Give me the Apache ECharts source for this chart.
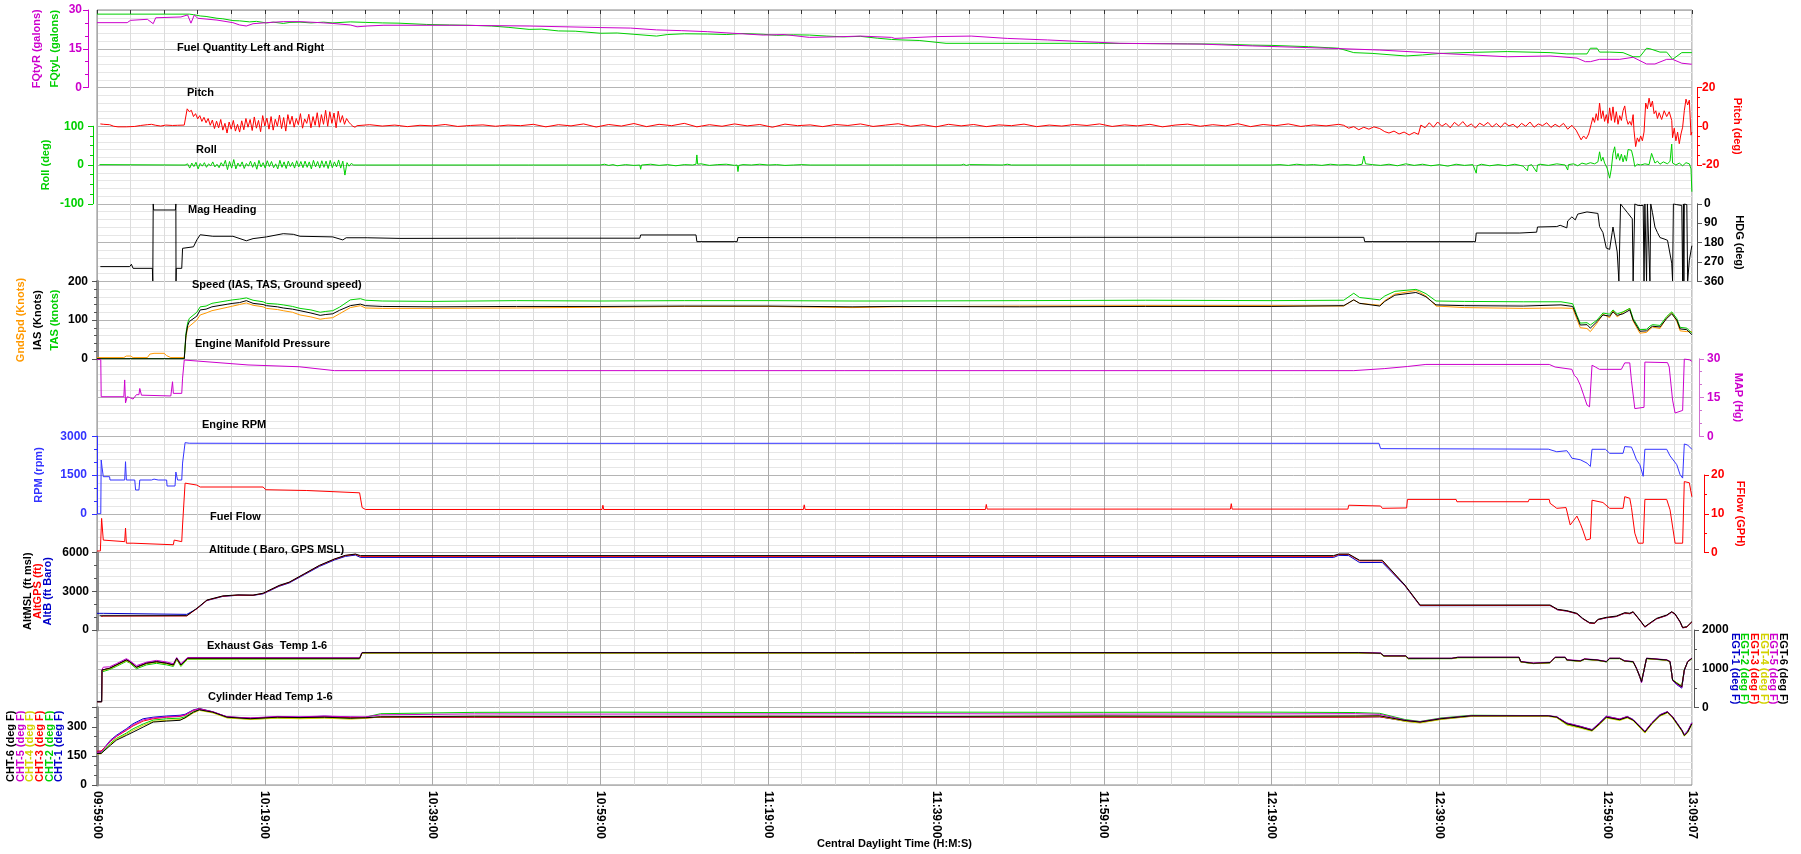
<!DOCTYPE html>
<html>
<head>
<meta charset="utf-8">
<script src="https://cdn.jsdelivr.net/npm/echarts@6/dist/echarts.min.js"></script>
<style>
html, body { margin: 0; padding: 0; background: #fff; }
#chart { width: 1801px; height: 854px; }
</style>
</head>
<body>
<div id="chart"></div>
<script>
// time is minutes after 09:59:00, last sample 13:09:07
const START_SEC = 9 * 3600 + 59 * 60;
const T_END = 11407 / 60;

// ---- fuel quantity (gal) ----
const fuelLeft = [[0,28.4],[11,28.4],[11.5,28.2],[12.3,27.7],[13,27.5],[14.3,26.8],[15,26.6],[16.2,25.9],[17,25.8],[18.2,25.4],[19,25.6],[20.2,25.0],[21,25.3],[22.2,24.8],[23,25.2],[24.2,25.3],[25.5,25.0],[27,25.3],[28.1,25.0],[30.2,25.4],[32,25.2],[34,25.0],[36,24.9],[39.3,24.4],[42,24.2],[44.2,24.1],[47,23.8],[49,23.3],[51.5,22.5],[53,22.6],[55,21.9],[57,21.8],[60,21.0],[62,21.1],[64,20.6],[66.7,19.9],[68,20.5],[70,20.8],[72.8,20.7],[75,20.5],[77,20.9],[79.4,20.6],[81,20.2],[83,20.4],[84.9,20.3],[87,19.9],[89,19.6],[91,19.8],[93,19.1],[94.7,18.6],[96,18.4],[98,18.2],[101.2,17.1],[110,17.1],[119.4,17.1],[125,17.0],[130,16.9],[134,16.8],[137.7,16.4],[140,16.3],[144.4,15.8],[148,15.2],[149.8,13.5],[152,13.2],[156,12.2],[158,12.6],[160.2,13.2],[164,13.6],[168.1,13.9],[173.2,13.5],[175.2,13.0],[177.6,13.0],[178,15.2],[178.8,15.2],[179.1,13.7],[180.3,13.7],[181.9,13.5],[183.1,11.9],[183.9,11.9],[184.7,15.2],[185.1,15.0],[186.3,13.7],[187.1,13.7],[187.8,10.9],[188.9,13.5],[190.1,13.5]];
const fuelRight = [[0,25.1],[3.6,25.1],[4,26.0],[6,26.4],[6.7,24.7],[7,27.0],[10,27.3],[10.8,28.1],[11.2,24.9],[11.6,28.1],[12,26.8],[14.3,26.1],[16.2,25.1],[17,24.2],[17.8,23.8],[18.6,24.7],[20.2,25.1],[22.2,25.5],[24.2,25.5],[26.6,25.1],[28.1,24.8],[30.2,24.2],[31,23.5],[32.2,23.8],[34.2,24.1],[42.3,24.1],[51.5,23.8],[60,23.2],[63.6,23.0],[66.7,22.3],[69.7,22.0],[72.8,21.6],[75.8,21.0],[79.4,20.3],[81.9,20.5],[84.9,19.4],[88,19.6],[91,19.9],[94.7,19.4],[95.1,19.0],[100,19.7],[104.2,19.9],[108.5,19.0],[113.3,18.4],[121.9,17.1],[131.6,16.8],[137.7,16.1],[146.8,15.2],[152.9,14.5],[160.2,13.2],[168.1,11.9],[173.2,12.2],[176.4,11.4],[177.4,10.0],[178.0,10.0],[179.1,10.9],[181.5,10.9],[183.1,11.7],[184.7,9.1],[185.7,9.1],[187.1,10.9],[187.8,10.9],[188.9,9.4],[190.1,9.0]];

// ---- attitude (deg) ----
const pitch = [[0.4,1.2],[0.8,1.0],[1.5,0.8],[2.0,0.0],[2.5,-0.3],[3.5,-0.3],[4.5,-0.1],[5.2,0.4],[6.0,0.8],[6.5,1.0],[7.0,0.5],[7.6,0.1],[8.2,0.6],[9.0,0.4],[9.6,0.5],[10.4,0.6],
[10.75,9.0],[11.0,7.5],[11.25,8.2],[11.5,5.0],[11.75,6.5],[12.0,3.8],[12.25,5.5],[12.5,2.5],[12.75,4.6],[13.0,1.8],[13.25,4.0],[13.5,0.5],[13.75,3.2],[14.0,-1.2],[14.25,2.6],[14.5,-0.8],[14.75,3.5],[15.0,-2.0],[15.25,1.5],[15.5,-3.5],[15.75,2.2],[16.0,-1.5],[16.25,3.0],[16.5,-2.5],[16.75,1.0],[17.0,-3.0],[17.25,2.8],[17.5,-1.8],[17.75,4.0],[18.0,-0.5],[18.25,3.5],[18.5,-2.2],[18.75,4.8],[19.0,-1.0],[19.25,3.0],[19.5,-2.8],[19.75,5.5],[20.0,0.2],[20.25,4.2],[20.5,-1.5],[20.75,5.0],[21.0,-2.0],[21.25,3.6],[21.5,0.0],[21.75,5.8],[22.0,-1.2],[22.25,4.5],[22.5,-2.5],[22.75,6.0],[23.0,1.0],[23.25,5.2],[23.5,-0.5],[23.75,4.0],[24.0,0.8],[24.25,6.5],[24.5,-1.0],[24.75,3.8],[25.0,1.5],[25.25,6.2],[25.5,-0.8],[25.75,5.0],[26.0,0.5],[26.25,7.0],[26.5,-0.5],[26.75,6.0],[27.0,1.0],[27.25,8.2],[27.5,0.0],[27.75,7.5],[28.0,1.5],[28.25,6.8],[28.5,-0.8],[28.75,7.8],[29.0,2.0],[29.25,5.5],[29.5,1.0],[29.75,4.0],[30.0,2.2],[30.25,1.0],[30.5,0.0],[30.75,-0.5],
[31.0,0.3],[32.5,0.8],[34,0.1],[35.5,0.6],[37,-0.2],[38.5,0.5],[40,0.2],[41.5,0.9],[43,-0.1],[44.5,0.4],[46,0.7],[47.5,0.0],[49,0.6],[50.5,0.3],[52,1.0],[53.5,-0.3],[55,0.8],[56.5,0.2],[58,1.2],[59.5,-0.4],[61,0.9],[62.5,0.1],[64,1.4],[65.5,-0.2],[67,1.0],[68.5,0.3],[70,1.5],[71.5,-0.3],[73,0.8],[74.5,0.0],[76,1.2],[77.5,0.2],[79,0.9],[80.5,-0.5],[82,1.1],[83.5,0.3],[85,0.7],[86.5,-0.2],[88,0.9],[89.5,0.4],[91,1.2],[92.5,-0.1],[94,0.6],[95.5,1.3],[97,0.0],[98.5,0.8],[100,-0.3],[101.5,1.0],[103,0.2],[104.5,0.9],[106,-0.2],[107.5,0.7],[109,0.3],[110.5,1.1],[112,-0.2],[113.5,0.6],[115,0.1],[116.5,0.9],[118,0.4],[119.5,1.2],[121,-0.1],[122.5,0.7],[124,0.2],[125.5,1.0],[127,-0.3],[128.5,0.6],[130,1.1],[131.5,0.0],[133,0.8],[134.5,0.2],[136,1.3],[137.5,-0.2],[139,0.9],[140.5,0.3],[142,1.2],[143.5,-0.1],[145,0.7],[146.5,0.2],[148,1.0],
[148.6,0.5],[149.2,-1.0],[149.8,-0.2],[150.4,-1.8],[151,-0.5],[151.6,-1.5],[152.2,-0.3],[152.9,-1.2],[153.5,-2.8],[154,-3.5],[154.6,-2.5],[155.2,-4.0],[155.8,-3.0],[156.4,-4.5],[157,-3.2],[157.5,-4.2],[157.8,0.6],[158.3,-0.8],[158.8,1.8],[159.3,-0.5],[159.8,2.2],[160.3,0.0],[160.8,1.5],[161.3,-0.8],[161.8,2.0],[162.3,0.2],[162.8,2.4],[163.3,-0.2],[163.8,1.2],[164.3,-0.9],[164.8,1.6],[165.3,0.3],[165.8,2.0],[166.3,-0.4],[166.8,1.4],[167.3,-0.6],[167.8,1.8],[168.3,0.2],[168.8,1.0],[169.3,-0.8],[169.8,1.5],[170.3,0.0],[170.8,2.2],[171.3,-0.5],[171.8,1.2],[172.3,0.3],[172.8,1.8],[173.3,-0.6],[173.8,1.0],[174.3,-0.3],[174.8,1.5],[175.3,-1.5],[175.8,0.5],[176.3,-2.0],[176.6,-4.5],[176.9,-7.0],[177.2,-5.0],[177.5,-6.5],[177.8,-4.0],[178.1,1.0],[178.3,4.5],[178.5,2.0],[178.7,6.5],[178.9,3.0],[179.1,12.0],[179.3,4.0],[179.5,8.0],[179.7,2.5],[179.9,6.0],[180.1,1.5],[180.3,9.5],[180.5,3.0],[180.7,10.0],[180.9,2.0],[181.1,7.5],[181.3,1.0],[181.5,5.5],[181.7,3.0],[181.9,8.0],[182.1,10.5],[182.3,4.0],[182.5,1.0],[182.7,2.5],[182.9,0.5],[183.1,6.0],[183.2,-2.0],[183.4,-10.5],[183.6,-6.0],[183.8,-8.0],[184.0,-5.0],[184.2,-7.5],[184.4,-3.0],[184.6,12.0],[184.8,9.0],[185.0,14.5],[185.2,10.0],[185.4,13.0],[185.6,6.5],[185.8,8.0],[186.0,4.0],[186.2,7.0],[186.5,3.5],[186.8,8.0],[187.1,5.0],[187.4,7.5],[187.7,3.0],[187.8,-5.9],[188.0,-1.0],[188.2,-7.5],[188.4,-3.0],[188.6,-9.0],[188.8,-4.0],[189.0,-0.5],[189.2,8.0],[189.4,14.0],[189.6,11.0],[189.8,13.5],[190.0,-4.6],[190.1,-3.0]];
const roll = [[0.3,1],[0.4,-2],[0.5,0],[10.5,0],
[10.8,3],[11.05,-8],[11.3,5],[11.55,-4],[11.8,7],[12.05,-10],[12.3,4],[12.55,-3],[12.8,6],[13.05,-6],[13.3,3],[13.55,-2],[13.8,8],[14.05,-5],[14.3,2],[14.55,-7],[14.8,6],[15.05,-3],[15.3,12],[15.55,-12],[15.8,9],[16.05,-8],[16.3,14],[16.55,-10],[16.8,5],[17.05,-4],[17.3,8],[17.55,-9],[17.8,4],[18.05,-3],[18.3,10],[18.55,-6],[18.8,7],[19.05,-11],[19.3,12],[19.55,-5],[19.8,6],[20.05,-8],[20.3,11],[20.55,-4],[20.8,9],[21.05,-7],[21.3,3],[21.55,-10],[21.8,12],[22.05,-6],[22.3,8],[22.55,-9],[22.8,10],[23.05,-4],[23.3,7],[23.55,-8],[23.8,11],[24.05,-5],[24.3,9],[24.55,-7],[24.8,10],[25.05,-6],[25.3,8],[25.55,-10],[25.8,12],[26.05,-5],[26.3,9],[26.55,-8],[26.8,11],[27.05,-6],[27.3,10],[27.55,-9],[27.8,12],[28.05,-7],[28.3,8],[28.55,-5],[28.8,13],[29.05,-8],[29.3,10],[29.55,-26],[29.8,6],[30.05,-3],[30.3,4],[30.6,0],
[51.4,0],[51.5,3],[51.6,0],[60,0],[60.5,2],[61,-1],[61.5,1],[62,-2],[63,1],[64,-1],[64.7,0],[64.8,-11],[64.9,0],[66,2],[67,-1],[68,1],[69,-2],[70,1],[71,0],[71.4,2],[71.5,26],[71.6,2],[72,3],[73,-1],[74,1],[75,2],[76,-1],[76.3,0],[76.4,-17],[76.5,-1],[77,1],[78,0],[79,2],[80,0],[81,1],[82,-1],[83,0],[84,1],[85,0],[103,0],[103.3,2],[103.6,-1],[104,1],[108,0],[108.5,2],[109,0],[125,0],[125.2,5],[125.4,0],[140,0],[141,1],[142,-1],[143,2],[144,0],[145,1],[146,-1],[147,2],[148,0],[149,1],[150,-1],[150.8,2],[151,23],[151.2,3],[152,1],[153,-1],[154,2],[155,-2],[156,3],[157,-1],[158,2],[159,-2],[160,1],[161,-3],[162,2],[163,-1],[164,1],[164.4,-21],[164.5,-2],[165,2],[166,-2],[167,1],[168,-2],[169,2],[170,-3],[170.5,-15],[170.6,-2],[171,1],[171.6,-18],[171.7,0],[172,2],[173,-1],[174,3],[175,0],[175.3,-13],[175.4,1],[176,3],[176.5,-2],[177,5],[177.5,2],[178,6],[178.5,3],[178.9,8],[179.1,34],[179.3,10],[179.5,20],[179.7,5],[180,-8],[180.3,-34],[180.5,-10],[180.7,30],[180.9,47],[181.1,15],[181.3,30],[181.5,12],[181.7,28],[181.9,8],[182.1,25],[182.3,10],[182.5,40],[182.7,43],[182.9,38],[183.1,20],[183.3,-4],[183.6,2],[184,0],[184.5,3],[185,1],[185.3,30],[185.5,25],[185.7,5],[186,10],[186.3,2],[186.7,8],[187.2,3],[187.5,10],[187.7,54],[187.8,5],[188.2,0],[188.6,5],[189,-2],[189.4,6],[189.8,3],[190.0,-10],[190.1,-69]];

// ---- magnetic heading (deg) ----
const heading = [[0.4,292],[3.9,292],[4.1,281],[4.3,300],[6.6,300],[6.65,359],[6.7,1],[6.75,29],[9.35,29],[9.4,1],[9.42,359],[9.45,300],[10.1,300],[10.2,207],[11.5,200],[11.9,168],[12.3,144],[13.8,151],[16.2,151],[17.8,172],[18.6,162],[20.2,154],[22.2,139],[23.4,142],[24.2,151],[28.1,154],[29.3,168],[29.7,158],[32.2,158],[36.1,161],[50,160],[64.7,160],[64.8,145],[71.4,145],[71.5,176],[76.3,176],[76.4,157],[100,158],[118,156],[151,156],[151.1,176],[164.3,176],[164.4,136],[169.6,136],[169.7,132],[171.6,132],[171.7,108],[174,106],[174.4,100],[175.2,112],[175.3,80],[175.8,61],[176.2,75],[176.5,48],[177.6,38],[178.9,45],[179.1,106],[179.5,134],[179.9,206],[180.3,212],[180.6,134],[180.7,108],[181.2,224],[181.4,359],[181.6,1],[181.9,16],[182.4,40],[183,70],[183.1,359],[183.3,1],[183.7,8],[184.3,8],[184.4,359],[184.5,1],[184.7,359],[184.8,1],[185.1,359],[185.2,1],[185.3,8],[185.4,40],[185.7,108],[186,134],[186.3,157],[186.9,165],[187.2,170],[187.7,276],[187.8,359],[187.9,1],[188.3,4],[188.9,8],[189,359],[189.1,1],[189.15,359],[189.2,1],[189.5,4],[189.6,359],[189.8,262],[190.1,195]];

// ---- speeds (knots) ----
const ias = [[0,0],[10.4,0],[10.6,60],[10.8,85],[11.0,96],[11.9,110],[12.3,126],[13.0,128],[13.7,134],[15.6,141],[16.2,143],[17.0,145],[17.8,150],[18.6,143],[19.8,140],[20.2,137],[21.5,134],[22.2,131],[23.3,128],[24.2,124],[25.5,118],[26.6,112],[27.2,114],[28.1,116],[28.9,125],[30.2,137],[31.4,141],[32,137],[34,135],[40,134],[50,135],[60,135],[70,136],[80,136],[90,134],[95,135],[110,134],[125,135],[140,135],[148.6,137],[149.8,152],[150.5,143],[152.9,136],[153.5,148],[154.7,164],[157.2,171],[157.6,168],[158.4,160],[159.6,139],[163,137],[170,136],[174.5,139],[175.9,135],[176.4,108],[176.8,87],[177.6,88],[178,79],[178.8,96],[179.5,113],[180.3,110],[180.7,121],[181.2,112],[181.9,116],[182.7,126],[183.1,100],[183.9,71],[184.7,72],[185.1,79],[185.4,84],[186.3,82],[187.1,104],[187.7,116],[188.3,100],[188.7,77],[189.5,75],[190.1,62]];
const tas = [[0,0],[10.4,0],[10.6,65],[10.8,92],[11.0,104],[11.9,120],[12.3,134],[13.0,136],[13.7,143],[15.6,150],[16.2,152],[17.0,154],[17.8,157],[18.6,151],[19.8,147],[20.2,143],[21.5,141],[22.2,139],[23.3,135],[24.2,130],[25.5,126],[26.6,120],[27.2,122],[28.1,124],[28.9,133],[30.2,152],[31.4,155],[32,151],[34,149],[40,148],[50,150],[60,149],[70,150],[80,150],[90,149],[95,149],[110,150],[125,151],[140,150],[148.6,151],[149.8,169],[150.5,158],[152.9,152],[153.5,162],[154.7,174],[157.2,179],[157.6,176],[158.4,168],[159.6,149],[163,148],[170,147],[174.5,147],[175.9,142],[176.4,112],[176.8,92],[177.6,93],[178,87],[178.8,100],[179.5,118],[180.3,115],[180.7,126],[181.2,116],[181.9,121],[182.7,130],[183.1,104],[183.9,75],[184.7,76],[185.1,84],[185.4,88],[186.3,86],[187.1,109],[187.7,121],[188.3,104],[188.7,81],[189.5,79],[190.1,66]];
const groundSpeed = [[0,3],[3.2,3],[3.5,7],[4.0,7],[4.3,3],[6.0,3],[6.3,12],[6.8,14],[8.0,14],[8.3,8],[8.8,3],[10.4,3],[10.6,55],[10.8,80],[11.9,100],[12.3,113],[13.0,118],[13.7,124],[15.6,133],[16.2,136],[17.0,140],[17.8,144],[18.6,138],[19.8,134],[20.2,130],[21.5,127],[22.2,124],[23.3,120],[24.2,113],[25.5,108],[26.6,102],[27.2,104],[28.1,106],[28.9,116],[30.2,132],[31.4,137],[32,131],[34,130],[40,130],[50,131],[60,133],[70,135],[80,135],[90,132],[95,134],[110,136],[125,137],[140,137],[148.6,136],[149.8,152],[150.5,143],[152.9,138],[153.5,150],[154.7,167],[157.2,176],[157.6,172],[158.4,162],[159.6,136],[163,132],[170,130],[174.5,131],[175.9,130],[176.4,102],[176.8,80],[177.6,78],[178,70],[178.8,92],[179.5,115],[180.3,106],[180.7,124],[181.2,108],[181.9,120],[182.7,130],[183.1,97],[183.9,66],[184.7,68],[185.1,76],[185.4,82],[186.3,78],[187.1,106],[187.7,119],[188.3,97],[188.7,72],[189.5,70],[190.1,70]];

// ---- engine ----
const manifold = [[0,29.7],[0.45,29.7],[0.5,15.3],[3.2,15.3],[3.3,21.8],[3.4,12.9],[3.6,15.3],[3.9,15.0],[4.3,14.4],[4.7,16.1],[5.0,16.1],[5.1,18.5],[5.3,15.9],[8.8,15.6],[9.0,21.1],[9.1,16.6],[10.1,16.6],[10.2,22.5],[10.4,29.5],[12,29.1],[18,27.6],[24.1,26.9],[28.3,25.4],[149.8,25.4],[153.5,26.2],[156.2,27.0],[158.4,27.8],[173.1,27.8],[173.8,26.8],[175.8,25.9],[176.1,23.5],[176.4,22.6],[176.8,19.8],[177.2,16.0],[177.6,12.1],[177.9,11.4],[178.1,11.4],[178.2,27.5],[178.6,26.8],[179.1,25.9],[181.7,25.9],[182.1,28.4],[182.7,28.4],[182.9,21.5],[183.3,10.7],[184.4,11.2],[184.5,28.7],[187.2,28.5],[187.4,26.8],[187.8,14.0],[188.1,9.0],[189.0,10.0],[189.2,29.9],[189.8,29.6],[190.1,29.0]];
const rpm = [[0,0],[0.45,0],[0.5,2080],[0.6,1800],[0.75,1435],[1.5,1435],[1.55,1306],[3.3,1306],[3.4,2015],[3.5,1306],[4.5,1306],[4.6,920],[5.0,920],[5.1,1306],[6.5,1306],[6.8,1340],[7.3,1306],[8.3,1306],[8.35,1074],[9.3,1074],[9.4,1615],[9.6,1306],[10.1,1306],[10.2,1962],[10.4,2000],[10.5,2752],[11,2730],[20,2725],[40,2728],[60,2725],[80,2727],[100,2730],[120,2730],[140,2727],[152.8,2727],[153,2520],[173,2500],[173.2,2450],[174,2400],[175.2,2440],[175.5,2310],[175.8,2150],[176.8,2090],[177.6,1960],[178,1830],[178.2,2495],[179.8,2495],[180.3,2340],[181.9,2340],[182.1,2600],[182.9,2580],[183.1,2430],[183.5,2090],[183.9,1900],[184.3,1450],[184.5,2495],[187.1,2495],[187.5,2240],[188.3,1900],[188.7,1510],[189,1380],[189.2,2700],[189.6,2660],[190.1,2495]];
const fuelFlow = [[0,0.4],[0.4,0.4],[0.55,8.8],[0.75,3.2],[0.9,2.8],[3.3,2.8],[3.4,6.3],[3.5,2.4],[4.3,2.4],[4.4,2.0],[9.1,2.0],[9.2,3.2],[10.1,2.8],[10.2,7.1],[10.5,17.9],[10.7,17.4],[11.9,17.4],[12.3,16.9],[19.8,16.9],[20.1,16.2],[25,16.0],[31.3,15.4],[31.6,11.6],[32,11.1],[60.2,11.1],[60.3,12.2],[60.4,11.1],[84.2,11.1],[84.3,12.3],[84.4,11.1],[105.9,11.1],[106,12.4],[106.1,11.2],[135.1,11.2],[135.2,12.6],[135.3,11.2],[149.1,11.2],[149.2,12.2],[153,12.0],[153.2,11.4],[156.1,11.5],[156.2,13.7],[162,13.7],[162.1,13.1],[170.6,13.1],[170.7,13.7],[173.1,13.7],[173.2,12.7],[174,11.4],[175.1,11.6],[175.6,7.1],[176.4,9.4],[176.8,7.5],[177.1,5.8],[177.5,3.2],[178,3.5],[178.2,13.5],[179.5,12.9],[180.3,11.4],[181.9,11.4],[182.1,14.4],[182.7,14.0],[182.9,11.6],[183.3,5.0],[183.7,2.4],[184.3,2.4],[184.5,13.7],[187.1,13.7],[187.5,11.0],[188.1,2.4],[189,2.4],[189.2,18.3],[189.8,18.0],[190.1,14.4]];

// ---- altitude (ft) ----
const altBaro = [[0,1290],[0.8,1290],[1,1210],[10.7,1210],[11.9,1640],[13.1,2280],[15,2600],[16.8,2690],[18.6,2680],[19.8,2800],[21.7,3380],[22.9,3640],[24.7,4280],[26.5,4920],[28.3,5420],[29.6,5700],[30.8,5800],[31.4,5620],[147.4,5620],[148,5780],[149.2,5760],[150.5,5220],[153.2,5230],[155.9,3420],[157.7,1880],[173.2,1890],[174.1,1560],[175.2,1460],[176.4,1250],[177.1,860],[177.9,540],[178.5,500],[178.9,790],[179.9,940],[181.1,1040],[182.1,1300],[182.7,1260],[183.1,1380],[183.9,740],[184.5,220],[185.1,500],[185.9,860],[187.1,1120],[187.7,1380],[188.1,1210],[188.7,600],[189,160],[189.5,220],[190.1,600]];
const altGps = [[0.5,1050],[0.8,1080],[10.7,1090],[11.9,1650],[13.1,2300],[15,2620],[16.8,2700],[18.6,2690],[19.8,2830],[21.7,3420],[22.9,3680],[24.7,4330],[26.5,4980],[28.3,5480],[29.6,5760],[30.8,5860],[31.4,5700],[147.4,5700],[148,5850],[149.2,5850],[150.5,5350],[153.2,5350],[155.9,3450],[157.7,1900],[173.2,1900],[174.1,1570],[175.2,1470],[176.4,1260],[177.1,870],[177.9,540],[178.5,510],[178.9,800],[179.9,950],[181.1,1050],[182.1,1310],[182.7,1270],[183.1,1390],[183.9,745],[184.5,230],[185.1,510],[185.9,870],[187.1,1130],[187.7,1390],[188.1,1220],[188.7,615],[189,170],[189.5,230],[190.1,615]];
const altMsl = [[0.3,1100],[10.7,1110],[11.9,1680],[13.1,2320],[15,2640],[16.8,2720],[18.6,2700],[19.8,2850],[21.7,3450],[22.9,3700],[24.7,4350],[26.5,5000],[28.3,5500],[29.6,5780],[30.8,5880],[31.4,5760],[147.4,5760],[148,5880],[149.2,5880],[150.5,5400],[153.2,5400],[155.9,3480],[157.7,1935],[173.2,1935],[174.1,1600],[175.2,1500],[176.4,1290],[177.1,900],[177.9,570],[178.5,540],[178.9,826],[179.9,980],[181.1,1080],[182.1,1340],[182.7,1300],[183.1,1420],[183.9,775],[184.5,258],[185.1,540],[185.9,903],[187.1,1160],[187.7,1420],[188.1,1250],[188.7,645],[189,200],[189.5,260],[190.1,645]];

// ---- exhaust gas temp (deg F) ----
const egtTime = [0,0.55,0.6,0.75,1.5,2.3,3.5,3.9,4.7,5.9, 7.1,8.3,9.1,9.5,10.0,10.8,31.3,31.6,149,150.4, 153,153.4,156,156.3,161.5,162.2,169.5,169.7,171.2,173.2, 173.8,175,175.2,176.8,177.3,178.8,179.9,180.3,181.5,182.1, 183.1,183.5,183.9,184.1,184.3,184.7,187.1,187.5,187.8,188.3, 188.9,189.2,189.6,190.1];
const egt1 = [150,150,960,1000,1015,1100,1235,1190,1050,1150, 1190,1150,1105,1265,1105,1265,1262,1410,1410,1412, 1398,1325,1328,1262,1265,1290,1290,1178,1135,1155, 1290,1292,1222,1196,1245,1222,1180,1264,1265,1196, 1180,1000,780,650,690,1265,1222,1180,700,590, 500,950,1178,1265];
const egt2 = [150,150,920,960,980,1060,1190,1150,1000,1100, 1140,1100,1060,1240,1060,1245,1255,1408,1405,1405, 1392,1322,1322,1258,1260,1285,1287,1175,1132,1152, 1288,1288,1220,1192,1242,1218,1176,1260,1260,1192, 1176,1005,800,690,720,1260,1218,1176,720,640, 560,975,1176,1260];
const egt3 = [150,150,965,1005,1012,1095,1222,1178,1040,1138, 1178,1138,1095,1262,1095,1265,1265,1412,1412,1414, 1396,1328,1326,1266,1266,1292,1292,1180,1138,1158, 1292,1292,1224,1198,1248,1224,1182,1266,1266,1198, 1182,1008,790,660,700,1266,1224,1182,705,620, 530,965,1180,1266];
const egt4 = [150,150,950,990,1000,1080,1210,1165,1030,1128, 1168,1128,1085,1250,1085,1255,1258,1405,1402,1404, 1390,1320,1320,1260,1262,1286,1286,1176,1134,1154, 1286,1288,1220,1194,1244,1220,1178,1262,1262,1194, 1178,1006,800,680,715,1262,1220,1178,715,635, 550,970,1178,1262];
const egt5 = [150,150,980,1040,1050,1130,1260,1210,1080,1170, 1215,1175,1130,1290,1130,1290,1285,1420,1418,1420, 1405,1335,1332,1275,1272,1300,1298,1190,1150,1168, 1300,1298,1235,1210,1258,1232,1190,1275,1272,1205, 1188,1020,810,640,690,1275,1232,1190,720,600, 520,960,1190,1275];
const egt6 = [150,150,970,1010,1010,1097,1226,1180,1037,1140, 1180,1140,1097,1270,1097,1270,1270,1415,1415,1415, 1400,1330,1330,1269,1269,1295,1295,1183,1140,1160, 1295,1295,1226,1200,1250,1226,1183,1269,1269,1200, 1183,1011,795,666,700,1269,1226,1183,710,624, 538,968,1183,1269];

// ---- cylinder head temp (deg F) ----
const chtTime = [0,0.5,1.6,2.3,3.5,4.3,5.5,6.7,8.3,9.9, 10.5,11.5,12.2,13.8,15.5,18.3,21.5,24.2,27.1,30.2, 32,33.8,45,60,80,100,120,140,150,152.9, 155.9,157.7,160.2,163.8,173,174,175.2,176.8,178.2,179.1, 179.9,181.5,182.4,183.1,184.5,185.3,186.3,187.2,187.8,188.9, 189.2,189.6,190.1];
const cht1 = [170,172,231,256,290,316,342,350,356,360, 365,388,395,378,352,345,352,350,355,350, 348,350,350,349,350,350,351,350,351,352, 330,322,340,355,356,352,320,303,286,322, 355,340,354,338,276,320,363,379,353,285, 260,279,322];
const cht2 = [165,168,215,240,268,290,315,335,342,345, 352,378,390,375,348,340,346,344,348,343, 350,368,375,376,374,376,375,376,374,370, 338,328,346,360,358,348,312,296,280,314, 348,336,348,334,272,314,357,374,348,280, 255,272,314];
const cht3 = [175,176,225,250,282,305,330,342,350,354, 360,385,393,377,351,344,350,347,352,348, 346,350,350,350,350,351,350,350,350,352, 332,324,341,356,355,351,318,301,284,318, 352,339,352,336,275,318,361,377,351,283, 258,276,318];
const cht4 = [160,161,210,236,262,282,308,328,334,338, 345,372,385,372,346,338,345,342,345,340, 344,352,354,353,354,353,355,354,355,356, 328,320,338,354,354,347,310,294,278,312, 346,333,346,332,268,312,355,372,346,278, 252,270,312];
const cht5 = [168,170,228,252,286,310,336,346,352,356, 362,386,392,378,352,346,354,352,356,352, 352,362,367,366,367,368,366,367,368,365, 335,327,344,358,358,352,319,302,285,320, 354,341,353,337,276,320,362,378,352,284, 259,277,320];
const cht6 = [162,163,205,231,256,273,299,325,330,334, 347,376,388,376,350,342,350,348,350,345, 347,352,355,354,355,354,356,355,356,357, 333,325,342,357,357,350,316,299,282,316, 350,337,350,335,273,316,359,376,350,282, 256,273,316];

// ---------------- layout / styling ----------------
const FONT = '"Liberation Sans", Arial, sans-serif';
const MAG = '#cc00cc', GRN = '#00d000', RED = '#ff0000', BLU = '#3333ff', DBLU = '#0000c8',
      ORG = '#ff9900', YEL = '#d2d200', BLK = '#000000', GRAY = '#8c8c8c';
const U = 38.75, TOP = 10, LEFT = 97, RIGHT = 109;

function pad(n) { return (n < 10 ? '0' : '') + n; }
function hms(v) {
  const s = Math.round(START_SEC + v * 60);
  return pad(Math.floor(s / 3600)) + ':' + pad(Math.floor((s % 3600) / 60)) + ':' + pad(s % 60);
}
const zip = (ts, vs) => ts.map((t, k) => [t, vs[k]]);

function nameText(lines) { return lines.map((s, i) => '{c' + i + '|' + s + '}').join('\n'); }
function nameStyle(colors, lh) {
  const rich = {};
  colors.forEach((c, i) => {
    rich['c' + i] = { color: c, fontSize: 11, fontWeight: 'bold', fontFamily: FONT, lineHeight: lh };
  });
  return { fontSize: 11, fontWeight: 'bold', fontFamily: FONT, lineHeight: lh, rich: rich };
}

// panel: start unit, side, axis settings
const panels = [
  { u: 0,  side: 'left',  min: 0, max: 30, step: 15, minor: 3, line: MAG, label: MAG, off: 9, margin: 6, gap: 24, lh: 18,
    names: ['FQtyR (galons)', 'FQtyL (galons)'], nameColors: [MAG, GRN] },
  { u: 2,  side: 'right', min: -20, max: 20, step: 20, minor: 4, line: RED, label: RED, off: 5, margin: 5, gap: 34, lh: 13,
    names: ['Pitch (deg)'], nameColors: [RED] },
  { u: 3,  side: 'left',  min: -100, max: 100, step: 100, minor: 4, line: GRN, label: GRN, off: 4, margin: 9, gap: 41, lh: 13,
    names: ['Roll (deg)'], nameColors: [GRN] },
  { u: 5,  side: 'right', min: 0, max: 360, step: 90, minor: 0, line: '#555', label: BLK, off: 5, margin: 7, gap: 36, lh: 13,
    names: ['HDG (deg)'], nameColors: [BLK], inverse: true },
  { u: 7,  side: 'left',  min: 0, max: 200, step: 100, minor: 5, line: GRAY, label: BLK, off: 0, margin: 9, gap: 34, lh: 17, lw: 3,
    names: ['GndSpd (Knots)', 'IAS (Knots)', 'TAS (knots)'], nameColors: [ORG, BLK, GRN] },
  { u: 9,  side: 'right', min: 0, max: 30, step: 15, minor: 3, line: '#d070d0', label: MAG, off: 7, margin: 8, gap: 33, lh: 13,
    names: ['MAP (Hg)'], nameColors: [MAG] },
  { u: 11, side: 'left',  min: 0, max: 3000, step: 1500, minor: 3, line: BLU, label: BLU, off: 0, margin: 10, gap: 52, lh: 13,
    names: ['RPM (rpm)'], nameColors: [BLU] },
  { u: 12, side: 'right', min: 0, max: 20, step: 10, minor: 2, line: RED, label: RED, off: 12, margin: 7, gap: 30, lh: 13,
    names: ['FFlow (GPH)'], nameColors: [RED] },
  { u: 14, side: 'left',  min: 0, max: 6000, step: 3000, minor: 3, line: GRAY, label: BLK, off: 0, margin: 8, gap: 44, lh: 10, lw: 3,
    names: ['AltMSL (ft msl)', 'AltGPS (ft)', 'AltB (ft Baro)'], nameColors: [BLK, RED, DBLU] },
  { u: 16, side: 'right', min: 0, max: 2000, step: 1000, minor: 2, line: '#555', label: BLK, off: 2, margin: 8, gap: 36, lh: 9.6,
    names: ['EGT-6 (deg F)', 'EGT-5 (deg F)', 'EGT-4 (deg F)', 'EGT-3 (deg F)', 'EGT-2 (deg F)', 'EGT-1 (deg F)'],
    nameColors: [BLK, MAG, YEL, RED, GRN, DBLU] },
  { u: 18, side: 'left',  min: 0, max: 400, step: 150, minor: 3, line: GRAY, label: BLK, off: 0, margin: 10, gap: 33, lh: 9.6, lw: 3,
    names: ['CHT-6 (deg F)', 'CHT-5 (deg F)', 'CHT-4 (deg F)', 'CHT-3 (deg F)', 'CHT-2 (deg F)', 'CHT-1 (deg F)'],
    nameColors: [BLK, MAG, YEL, RED, GRN, DBLU], hideMax: true }
];

const grids = [{ left: LEFT, right: RIGHT, top: TOP, height: 20 * U, show: true,
  borderColor: '#888', borderWidth: 1, backgroundColor: 'transparent', outerBoundsMode: 'none' }];
const xAxes = [{
  type: 'value', gridIndex: 0, min: 0, max: T_END, interval: 4,
  axisLine: { show: false },
  axisTick: { show: true, length: 4, lineStyle: { color: '#333' } },
  splitLine: { show: true, lineStyle: { color: ['#aaaaaa', '#dcdcdc', '#dcdcdc', '#dcdcdc', '#dcdcdc'], width: 1 } },
  axisLabel: { interval: 0, rotate: -90, margin: 6, fontSize: 12, fontWeight: 'bold', color: '#000', fontFamily: FONT,
    showMinLabel: true, showMaxLabel: true,
    formatter: v => (Math.abs(v % 20) < 1e-6 || v > 189) ? hms(v) : '' },
  name: 'Central Daylight Time (H:M:S)', nameLocation: 'middle', nameGap: 53, nameMoveOverlap: false,
  nameTextStyle: { fontSize: 11, fontWeight: 'bold', color: '#000', fontFamily: FONT }
}];
const yAxes = [{
  type: 'value', gridIndex: 0, min: 0, max: 20, interval: 1, inverse: true,
  axisLine: { show: false }, axisTick: { show: false }, axisLabel: { show: false },
  splitLine: { show: true, lineStyle: { color: '#b4b4b4' } },
  minorTick: { show: false, splitNumber: 5 },
  minorSplitLine: { show: true, lineStyle: { color: '#e6e6e6' } }
}];

panels.forEach((p, k) => {
  const gi = k + 1;
  grids.push({ left: LEFT, right: RIGHT, top: TOP + p.u * U, height: 2 * U, show: false, outerBoundsMode: 'none' });
  xAxes.push({ type: 'value', gridIndex: gi, min: 0, max: T_END, show: false });
  yAxes.push({
    type: 'value', gridIndex: gi, position: p.side, offset: p.off, min: p.min, max: p.max, interval: p.step,
    inverse: !!p.inverse,
    axisLine: { show: true, onZero: false, lineStyle: { color: p.line, width: p.lw || 1 } },
    axisTick: { show: true, length: 5, lineStyle: { color: p.lw ? '#555' : p.line } },
    minorTick: { show: p.minor > 0, splitNumber: p.minor || 5, length: 3, lineStyle: { color: p.lw ? '#555' : p.line } },
    splitLine: { show: false },
    axisLabel: { color: p.label, fontSize: 12, fontWeight: 'bold', fontFamily: FONT, margin: p.margin,
      showMinLabel: true, showMaxLabel: !p.hideMax, formatter: v => String(v) },
    name: nameText(p.names), nameLocation: 'middle', nameGap: p.gap, nameMoveOverlap: false,
    nameRotate: p.side === 'left' ? 90 : -90,
    nameTextStyle: nameStyle(p.nameColors, p.lh)
  });
});

function ln(gi, data, color) {
  return { type: 'line', xAxisIndex: gi, yAxisIndex: gi, data: data, symbol: 'none', showSymbol: false,
    silent: true, lineStyle: { color: color, width: 1 }, itemStyle: { color: color } };
}

const series = [
  ln(1, fuelLeft, GRN), ln(1, fuelRight, MAG),
  ln(2, pitch, RED),
  ln(3, roll, GRN),
  ln(4, heading, BLK),
  ln(5, groundSpeed, ORG), ln(5, tas, GRN), ln(5, ias, BLK),
  ln(6, manifold, MAG),
  ln(7, rpm, BLU),
  ln(8, fuelFlow, RED),
  ln(9, altBaro, DBLU), ln(9, altGps, RED), ln(9, altMsl, BLK),
  ln(10, zip(egtTime, egt1), DBLU), ln(10, zip(egtTime, egt2), GRN), ln(10, zip(egtTime, egt3), RED),
  ln(10, zip(egtTime, egt4), YEL), ln(10, zip(egtTime, egt5), MAG), ln(10, zip(egtTime, egt6), BLK),
  ln(11, zip(chtTime, cht1), DBLU), ln(11, zip(chtTime, cht2), GRN), ln(11, zip(chtTime, cht3), RED),
  ln(11, zip(chtTime, cht4), YEL), ln(11, zip(chtTime, cht5), MAG), ln(11, zip(chtTime, cht6), BLK)
];

// panel captions: text, left, top
const captions = [
  ['Fuel Quantity Left and Right', 177, 42],
  ['Pitch', 187, 87],
  ['Roll', 196, 144],
  ['Mag Heading', 188, 204],
  ['Speed (IAS, TAS, Ground speed)', 192, 279],
  ['Engine Manifold Pressure', 195, 338],
  ['Engine RPM', 202, 419],
  ['Fuel Flow', 210, 511],
  ['Altitude ( Baro, GPS MSL)', 209, 544],
  ['Exhaust Gas  Temp 1-6', 207, 640],
  ['Cylinder Head Temp 1-6', 208, 691]
];

const chart = echarts.init(document.getElementById('chart'), null, { renderer: 'canvas' });
chart.setOption({
  backgroundColor: '#ffffff',
  animation: false,
  title: captions.map(c => ({ text: c[0], left: c[1], top: c[2], padding: 0,
    textStyle: { fontSize: 11, fontWeight: 'bold', color: '#000', fontFamily: FONT } })),
  grid: grids,
  xAxis: xAxes,
  yAxis: yAxes,
  series: series
});
</script>
</body>
</html>
